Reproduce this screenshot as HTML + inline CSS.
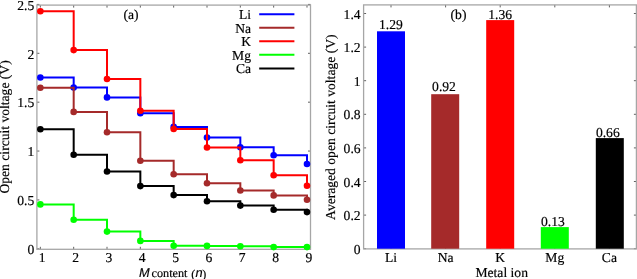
<!DOCTYPE html><html><head><meta charset="utf-8"><style>html,body{margin:0;padding:0;background:#fff;width:637px;height:279px;overflow:hidden}svg{display:block;will-change:transform}text{font-family:"Liberation Serif",serif;fill:#000;stroke:#000;stroke-width:0.18px;text-rendering:geometricPrecision}</style></head><body>
<svg width="637" height="279" viewBox="0 0 637 279">
<path d="M40.35 249.3v-2.5M40.35 5.1v2.5M73.68 249.3v-2.5M73.68 5.1v2.5M107.01 249.3v-2.5M107.01 5.1v2.5M140.34 249.3v-2.5M140.34 5.1v2.5M173.67 249.3v-2.5M173.67 5.1v2.5M207.00 249.3v-2.5M207.00 5.1v2.5M240.33 249.3v-2.5M240.33 5.1v2.5M273.66 249.3v-2.5M273.66 5.1v2.5M306.99 249.3v-2.5M306.99 5.1v2.5M36.9 248.80h2.5M310.5 248.80h-2.5M36.9 199.93h2.5M310.5 199.93h-2.5M36.9 151.05h2.5M310.5 151.05h-2.5M36.9 102.18h2.5M310.5 102.18h-2.5M36.9 53.30h2.5M310.5 53.30h-2.5M36.9 4.43h2.5M310.5 4.43h-2.5" stroke="#606060" stroke-width="1" fill="none"/>
<rect x="36.9" y="5.1" width="273.60" height="244.20" fill="none" stroke="#a6a6a6" stroke-width="1.3"/>
<path d="M40.35 77.50H73.68V87.60H107.01V97.40H140.34V113.30H173.67V126.90H207.00V137.50H240.33V147.20H273.66V155.30H306.99V164.00" stroke="#0000ff" stroke-width="2" fill="none"/>
<circle cx="40.35" cy="77.50" r="3.3" fill="#0000ff"/>
<circle cx="73.68" cy="87.60" r="3.3" fill="#0000ff"/>
<circle cx="107.01" cy="97.40" r="3.3" fill="#0000ff"/>
<circle cx="140.34" cy="113.30" r="3.3" fill="#0000ff"/>
<circle cx="173.67" cy="126.90" r="3.3" fill="#0000ff"/>
<circle cx="207.00" cy="137.50" r="3.3" fill="#0000ff"/>
<circle cx="240.33" cy="147.20" r="3.3" fill="#0000ff"/>
<circle cx="273.66" cy="155.30" r="3.3" fill="#0000ff"/>
<circle cx="306.99" cy="164.00" r="3.3" fill="#0000ff"/>
<path d="M40.35 87.80H73.68V111.90H107.01V132.20H140.34V160.80H173.67V174.30H207.00V183.20H240.33V190.50H273.66V195.40H306.99V199.70" stroke="#a52a2a" stroke-width="2" fill="none"/>
<circle cx="40.35" cy="87.80" r="3.3" fill="#a52a2a"/>
<circle cx="73.68" cy="111.90" r="3.3" fill="#a52a2a"/>
<circle cx="107.01" cy="132.20" r="3.3" fill="#a52a2a"/>
<circle cx="140.34" cy="160.80" r="3.3" fill="#a52a2a"/>
<circle cx="173.67" cy="174.30" r="3.3" fill="#a52a2a"/>
<circle cx="207.00" cy="183.20" r="3.3" fill="#a52a2a"/>
<circle cx="240.33" cy="190.50" r="3.3" fill="#a52a2a"/>
<circle cx="273.66" cy="195.40" r="3.3" fill="#a52a2a"/>
<circle cx="306.99" cy="199.70" r="3.3" fill="#a52a2a"/>
<path d="M40.35 11.30H73.68V50.10H107.01V79.00H140.34V110.70H173.67V129.00H207.00V147.50H240.33V160.20H273.66V175.30H306.99V185.80" stroke="#ff0000" stroke-width="2" fill="none"/>
<circle cx="40.35" cy="11.30" r="3.3" fill="#ff0000"/>
<circle cx="73.68" cy="50.10" r="3.3" fill="#ff0000"/>
<circle cx="107.01" cy="79.00" r="3.3" fill="#ff0000"/>
<circle cx="140.34" cy="110.70" r="3.3" fill="#ff0000"/>
<circle cx="173.67" cy="129.00" r="3.3" fill="#ff0000"/>
<circle cx="207.00" cy="147.50" r="3.3" fill="#ff0000"/>
<circle cx="240.33" cy="160.20" r="3.3" fill="#ff0000"/>
<circle cx="273.66" cy="175.30" r="3.3" fill="#ff0000"/>
<circle cx="306.99" cy="185.80" r="3.3" fill="#ff0000"/>
<path d="M40.35 204.40H73.68V219.80H107.01V231.60H140.34V240.90H173.67V245.80H207.00V245.90H240.33V246.30H273.66V247.10H306.99V247.10" stroke="#00ff00" stroke-width="2" fill="none"/>
<circle cx="40.35" cy="204.40" r="3.3" fill="#00ff00"/>
<circle cx="73.68" cy="219.80" r="3.3" fill="#00ff00"/>
<circle cx="107.01" cy="231.60" r="3.3" fill="#00ff00"/>
<circle cx="140.34" cy="240.90" r="3.3" fill="#00ff00"/>
<circle cx="173.67" cy="245.80" r="3.3" fill="#00ff00"/>
<circle cx="207.00" cy="245.90" r="3.3" fill="#00ff00"/>
<circle cx="240.33" cy="246.30" r="3.3" fill="#00ff00"/>
<circle cx="273.66" cy="247.10" r="3.3" fill="#00ff00"/>
<circle cx="306.99" cy="247.10" r="3.3" fill="#00ff00"/>
<path d="M40.35 129.30H73.68V154.70H107.01V171.50H140.34V186.10H173.67V195.10H207.00V201.20H240.33V205.60H273.66V209.80H306.99V212.10" stroke="#000000" stroke-width="2" fill="none"/>
<circle cx="40.35" cy="129.30" r="3.3" fill="#000000"/>
<circle cx="73.68" cy="154.70" r="3.3" fill="#000000"/>
<circle cx="107.01" cy="171.50" r="3.3" fill="#000000"/>
<circle cx="140.34" cy="186.10" r="3.3" fill="#000000"/>
<circle cx="173.67" cy="195.10" r="3.3" fill="#000000"/>
<circle cx="207.00" cy="201.20" r="3.3" fill="#000000"/>
<circle cx="240.33" cy="205.60" r="3.3" fill="#000000"/>
<circle cx="273.66" cy="209.80" r="3.3" fill="#000000"/>
<circle cx="306.99" cy="212.10" r="3.3" fill="#000000"/>
<text x="42.25" y="261.9" font-size="13.6" text-anchor="middle">1</text>
<text x="75.58" y="261.9" font-size="13.6" text-anchor="middle">2</text>
<text x="108.91" y="261.9" font-size="13.6" text-anchor="middle">3</text>
<text x="142.24" y="261.9" font-size="13.6" text-anchor="middle">4</text>
<text x="175.57" y="261.9" font-size="13.6" text-anchor="middle">5</text>
<text x="208.90" y="261.9" font-size="13.6" text-anchor="middle">6</text>
<text x="242.23" y="261.9" font-size="13.6" text-anchor="middle">7</text>
<text x="275.56" y="261.9" font-size="13.6" text-anchor="middle">8</text>
<text x="308.89" y="261.9" font-size="13.6" text-anchor="middle">9</text>
<text x="34.3" y="254.10" font-size="13.6" text-anchor="end">0</text>
<text x="34.3" y="205.23" font-size="13.6" text-anchor="end">0.5</text>
<text x="34.3" y="156.35" font-size="13.6" text-anchor="end">1</text>
<text x="34.3" y="107.48" font-size="13.6" text-anchor="end">1.5</text>
<text x="34.3" y="58.60" font-size="13.6" text-anchor="end">2</text>
<text x="34.3" y="9.73" font-size="13.6" text-anchor="end">2.5</text>
<text x="251" y="19.00" font-size="13.6" text-anchor="end">Li</text>
<path d="M259.2 14.20H294.4" stroke="#0000ff" stroke-width="2"/>
<text x="251" y="32.55" font-size="13.6" text-anchor="end">Na</text>
<path d="M259.2 27.75H294.4" stroke="#a52a2a" stroke-width="2"/>
<text x="251" y="46.10" font-size="13.6" text-anchor="end">K</text>
<path d="M259.2 41.30H294.4" stroke="#ff0000" stroke-width="2"/>
<text x="251" y="59.65" font-size="13.6" text-anchor="end">Mg</text>
<path d="M259.2 54.85H294.4" stroke="#00ff00" stroke-width="2"/>
<text x="251" y="73.20" font-size="13.6" text-anchor="end">Ca</text>
<path d="M259.2 68.40H294.4" stroke="#000000" stroke-width="2"/>
<text x="131" y="19.2" font-size="13.6" text-anchor="middle">(a)</text>
<text x="139.0" y="276.9" font-size="12.8" style="font-family:&quot;Liberation Sans&quot;,sans-serif;font-style:italic">M</text>
<text x="151.6" y="276.9" font-size="12.2">content</text>
<text x="191.2" y="277.6" font-size="12">(</text>
<text x="195.6" y="276.9" font-size="12.8" style="font-family:&quot;Liberation Sans&quot;,sans-serif;font-style:italic">n</text>
<text x="202.2" y="277.6" font-size="12">)</text>
<text transform="translate(9.0 126.9) rotate(-90)" font-size="13.6" text-anchor="middle">Open circuit voltage (V)</text>
<path d="M391.00 248.9v-2.5M391.00 4.9v2.5M445.60 248.9v-2.5M445.60 4.9v2.5M500.20 248.9v-2.5M500.20 4.9v2.5M554.80 248.9v-2.5M554.80 4.9v2.5M609.40 248.9v-2.5M609.40 4.9v2.5M363.6 248.70h2.5M636.4 248.70h-2.5M363.6 215.10h2.5M636.4 215.10h-2.5M363.6 181.50h2.5M636.4 181.50h-2.5M363.6 147.90h2.5M636.4 147.90h-2.5M363.6 114.30h2.5M636.4 114.30h-2.5M363.6 80.70h2.5M636.4 80.70h-2.5M363.6 47.10h2.5M636.4 47.10h-2.5M363.6 13.50h2.5M636.4 13.50h-2.5" stroke="#606060" stroke-width="1" fill="none"/>
<rect x="363.6" y="4.9" width="272.80" height="244.00" fill="none" stroke="#a6a6a6" stroke-width="1.3"/>
<rect x="377.00" y="31.3" width="28" height="217.40" fill="#0000ff"/>
<text x="390.90" y="28.8" font-size="13.6" text-anchor="middle">1.29</text>
<text x="391.00" y="262.1" font-size="13.6" text-anchor="middle">Li</text>
<rect x="431.20" y="94.2" width="28" height="154.50" fill="#a52a2a"/>
<text x="444.00" y="91.3" font-size="13.6" text-anchor="middle">0.92</text>
<text x="445.60" y="262.1" font-size="13.6" text-anchor="middle">Na</text>
<rect x="486.20" y="20.1" width="28" height="228.60" fill="#ff0000"/>
<text x="500.20" y="19.1" font-size="13.6" text-anchor="middle">1.36</text>
<text x="500.20" y="262.1" font-size="13.6" text-anchor="middle">K</text>
<rect x="540.80" y="227.1" width="28" height="21.60" fill="#00ff00"/>
<text x="552.90" y="225.9" font-size="13.6" text-anchor="middle">0.13</text>
<text x="554.80" y="262.1" font-size="13.6" text-anchor="middle">Mg</text>
<rect x="595.80" y="138.1" width="28" height="110.60" fill="#000000"/>
<text x="607.80" y="137.0" font-size="13.6" text-anchor="middle">0.66</text>
<text x="609.40" y="262.1" font-size="13.6" text-anchor="middle">Ca</text>
<text x="360.6" y="253.70" font-size="13.6" text-anchor="end">0</text>
<text x="360.6" y="220.10" font-size="13.6" text-anchor="end">0.2</text>
<text x="360.6" y="186.50" font-size="13.6" text-anchor="end">0.4</text>
<text x="360.6" y="152.90" font-size="13.6" text-anchor="end">0.6</text>
<text x="360.6" y="119.30" font-size="13.6" text-anchor="end">0.8</text>
<text x="360.6" y="85.70" font-size="13.6" text-anchor="end">1</text>
<text x="360.6" y="52.10" font-size="13.6" text-anchor="end">1.2</text>
<text x="360.6" y="18.50" font-size="13.6" text-anchor="end">1.4</text>
<text x="458.5" y="19.2" font-size="13.6" text-anchor="middle">(b)</text>
<text x="501.7" y="277" font-size="13.6" text-anchor="middle">Metal ion</text>
<text transform="translate(335 127.2) rotate(-90)" font-size="13.6" text-anchor="middle">Averaged open circuit voltage (V)</text>
</svg></body></html>
